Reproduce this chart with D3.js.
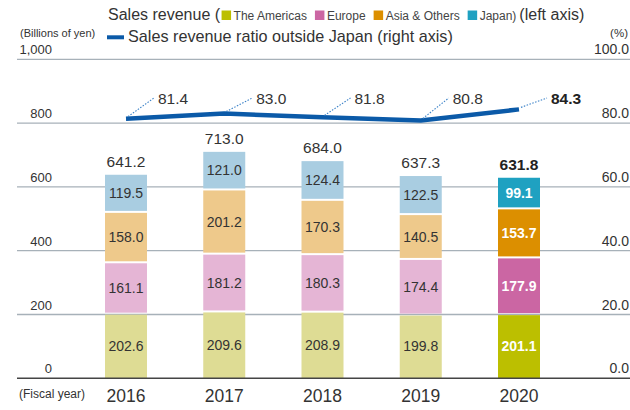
<!DOCTYPE html>
<html>
<head>
<meta charset="utf-8">
<script src="https://cdn.jsdelivr.net/npm/d3@7"></script>
<style>
  html, body { margin: 0; padding: 0; background: #ffffff; }
  svg { display: block; font-family: "Liberation Sans", Arial, Helvetica, sans-serif; }
</style>
</head>
<body>
<svg id="chart" width="630" height="410"></svg>
<script>
// ---- Data ----
const years = ["2016", "2017", "2018", "2019", "2020"];
const regions = ["The Americas", "Europe", "Asia & Others", "Japan"];
const americas = [202.6, 209.6, 208.9, 199.8, 201.1];
const europe = [161.1, 181.2, 180.3, 174.4, 177.9];
const asiaOthers = [158.0, 201.2, 170.3, 140.5, 153.7];
const japan = [119.5, 121.0, 124.4, 122.5, 99.1];
const totals = [641.2, 713.0, 684.0, 637.3, 631.8];
const ratioOutsideJapan = [81.4, 83.0, 81.8, 80.8, 84.3];
const leftTicks = [0, 200, 400, 600, 800, 1000];
const rightTicks = [0, 20, 40, 60, 80, 100];

// ---- Styles ----
const brightColors = ["#bcbf00", "#cb66a3", "#dc8f00", "#1fa1c1"];
const mutedColors = ["#dedc94", "#e5b5d5", "#eec98b", "#a9cde1"];
const lineColor = "#0b5aa8";
const textColor = "#333333";

const svg = d3.select("#chart");

const x = d3.scalePoint().domain(years).range([126, 519]);
const yL = d3.scaleLinear().domain([0, 1000]).range([378.3, 59.3]);
const yR = d3.scaleLinear().domain([0, 100]).range([378.3, 59.3]);
const barW = 42;

// ---- Gridlines ----
const grid = svg.append("g");
grid.selectAll("line").data(leftTicks.filter(d => d > 0)).join("line")
  .attr("x1", 17).attr("x2", 630)
  .attr("y1", d => yL(d)).attr("y2", d => yL(d))
  .attr("stroke", "#a7b1b9").attr("stroke-width", 1.3);

// ---- Left axis labels ----
const axL = svg.append("g").attr("transform", "translate(52,0)")
  .call(d3.axisLeft(yL).tickValues(leftTicks).tickSize(0).tickPadding(0)
    .tickFormat(d3.format(",")));
axL.select(".domain").remove();
axL.selectAll("text").attr("dy", "-5.5").attr("font-size", 13)
  .attr("fill", textColor).attr("font-family", "Liberation Sans, Arial, sans-serif");

// ---- Right axis labels ----
const axR = svg.append("g").attr("transform", "translate(629,0)")
  .call(d3.axisLeft(yR).tickValues(rightTicks).tickSize(0).tickPadding(0)
    .tickFormat(d3.format(".1f")));
axR.select(".domain").remove();
axR.selectAll("text").attr("dy", "-5.5").attr("font-size", 14)
  .attr("fill", textColor).attr("font-family", "Liberation Sans, Arial, sans-serif");

// ---- Stacked bars ----
const series = [americas, europe, asiaOthers, japan];
const rows = years.map((yr, i) => {
  const r = { year: yr, i };
  regions.forEach((k, j) => r[k] = series[j][i]);
  return r;
});
const stack = d3.stack().keys(regions)(rows);

const barsG = svg.append("g");
stack.forEach((layer, j) => {
  const g = barsG.append("g");
  g.selectAll("rect").data(layer).join("rect")
    .attr("x", d => x(d.data.year) - barW / 2)
    .attr("width", barW)
    .attr("y", d => yL(d[1]) + 1)
    .attr("height", d => yL(d[0]) - yL(d[1]) - (j === 0 ? 1 : 2))
    .attr("fill", d => d.data.i === years.length - 1 ? brightColors[j] : mutedColors[j]);
  g.selectAll("text").data(layer).join("text")
    .attr("x", d => x(d.data.year))
    .attr("y", d => (yL(d[0]) + yL(d[1])) / 2 + 5)
    .attr("text-anchor", "middle")
    .attr("font-size", 14)
    .attr("font-weight", d => d.data.i === years.length - 1 ? "bold" : "normal")
    .attr("fill", d => d.data.i === years.length - 1 ? "#ffffff" : textColor)
    .text(d => (d[1] - d[0]).toFixed(1));
});

// Totals
svg.append("g").selectAll("text").data(totals).join("text")
  .attr("x", (d, i) => x(years[i]))
  .attr("y", d => yL(d) - 7)
  .attr("text-anchor", "middle")
  .attr("font-size", 15.5)
  .attr("font-weight", (d, i) => i === years.length - 1 ? "bold" : "normal")
  .attr("fill", (d, i) => i === years.length - 1 ? "#222" : textColor)
  .text(d => d.toFixed(1));

// Zero baseline
svg.append("line").attr("x1", 17).attr("x2", 630)
  .attr("y1", yL(0)).attr("y2", yL(0))
  .attr("stroke", "#444").attr("stroke-width", 1.5);

// ---- Ratio line ----
const linePts = ratioOutsideJapan.map((v, i) => [x(years[i]), yR(v)]);
svg.append("path")
  .attr("d", d3.line()(linePts))
  .attr("fill", "none").attr("stroke", lineColor)
  .attr("stroke-width", 4.5).attr("stroke-linejoin", "round");

const labelBase = 104;
const lblG = svg.append("g");
linePts.forEach((p, i) => {
  lblG.append("line")
    .attr("x1", p[0] + 2).attr("y1", p[1] - 2)
    .attr("x2", p[0] + 28).attr("y2", labelBase - 6)
    .attr("stroke", "#3b82c8").attr("stroke-width", 1.1)
    .attr("stroke-dasharray", "1.5,1.5");
  lblG.append("text")
    .attr("x", p[0] + 32).attr("y", labelBase)
    .attr("font-size", 15.5)
    .attr("font-weight", i === years.length - 1 ? "bold" : "normal")
    .attr("fill", i === years.length - 1 ? "#222" : textColor)
    .text(ratioOutsideJapan[i].toFixed(1));
});

// ---- Year labels ----
svg.append("g").selectAll("text").data(years).join("text")
  .attr("x", d => x(d)).attr("y", 402)
  .attr("text-anchor", "middle").attr("font-size", 17.5)
  .attr("fill", textColor).text(d => d);

svg.append("text").attr("x", 19).attr("y", 398).attr("font-size", 12)
  .attr("fill", textColor).text("(Fiscal year)");
svg.append("text").attr("x", 20).attr("y", 37).attr("font-size", 11)
  .attr("fill", textColor).text("(Billions of yen)");
svg.append("text").attr("x", 628).attr("y", 36.5).attr("font-size", 11.5)
  .attr("text-anchor", "end").attr("fill", textColor).text("(%)");

// ---- Legend ----
const leg = svg.append("g");
let lx = 108;
const ly = 20;
const t0 = leg.append("text").attr("x", lx).attr("y", ly).attr("font-size", 16)
  .attr("fill", textColor).text("Sales revenue (");
lx += t0.node().getComputedTextLength() + 1.5;
regions.forEach((r, j) => {
  leg.append("rect").attr("x", lx).attr("y", ly - 9.5).attr("width", 9.5).attr("height", 9.5)
    .attr("fill", brightColors[j]);
  const t = leg.append("text").attr("x", lx + 12).attr("y", ly).attr("font-size", 12)
    .attr("fill", "#444").text(j === regions.length - 1 ? r + ")" : r);
  lx += 12 + t.node().getComputedTextLength() + (j === regions.length - 1 ? 3 : 8);
});
leg.append("text").attr("x", lx).attr("y", ly).attr("font-size", 16)
  .attr("fill", textColor).text("(left axis)");

leg.append("line").attr("x1", 107).attr("x2", 124).attr("y1", 37.3).attr("y2", 37.3)
  .attr("stroke", lineColor).attr("stroke-width", 4);
leg.append("text").attr("x", 128).attr("y", 41.5).attr("font-size", 16.2)
  .attr("fill", textColor).text("Sales revenue ratio outside Japan (right axis)");
</script>
</body>
</html>
